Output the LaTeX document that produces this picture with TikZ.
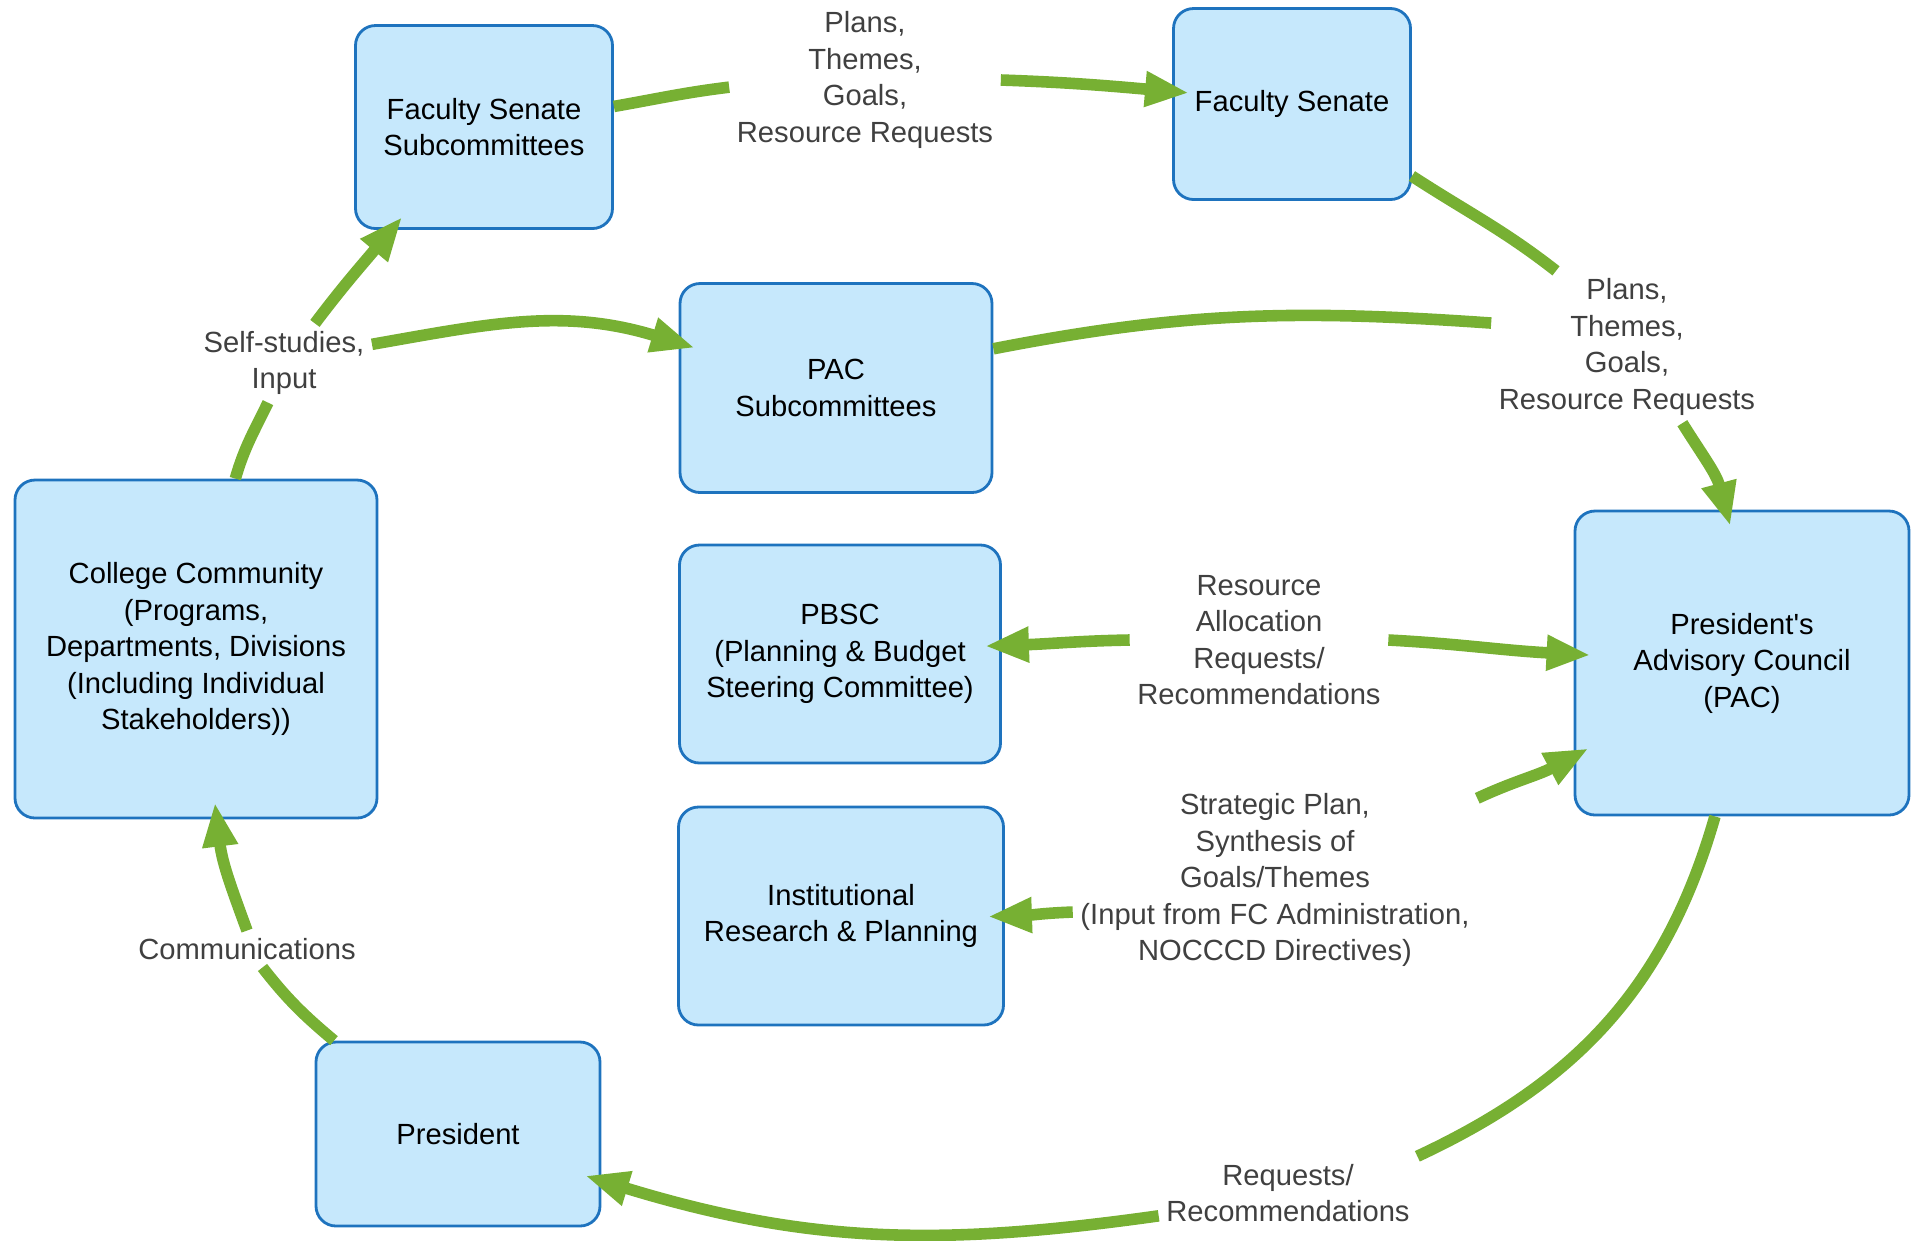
\documentclass[tikz,border=0pt]{standalone}
\usepackage{fontspec}
\setmainfont{Liberation Sans}
\usetikzlibrary{arrows.meta}
\definecolor{boxfill}{HTML}{C6E8FC}
\definecolor{boxline}{HTML}{1E73BE}
\definecolor{flowgreen}{HTML}{77B033}
\definecolor{labelgray}{HTML}{404040}

\begin{document}
\begin{tikzpicture}[
    >={Triangle[length=0.44cm, width=0.33cm]},
    box/.style={draw=boxline, fill=boxfill, line width=0.8pt, rounded corners=0.2cm,
      align=center, text=black, font=\fontsize{8.3}{10.4}\selectfont},
    lbl/.style={align=center, text=labelgray, inner sep=2pt, font=\fontsize{8.3}{10.4}\selectfont},
    flow/.style={draw=flowgreen, line width=3.3pt},
    flowarrow/.style={flow, ->, shorten >=-0.17cm}
  ]
    \useasboundingbox (0,0) rectangle (19.11,-12.40);

    % Boxes
    \node[box, minimum width=2.57cm, minimum height=2.03cm] (fss) at (4.84,-1.27) {Faculty Senate\\Subcommittees};
    \node[box, minimum width=2.37cm, minimum height=1.91cm] (fs) at (12.92,-1.04) {Faculty Senate};
    \node[box, minimum width=3.12cm, minimum height=2.09cm] (pacs) at (8.36,-3.88) {PAC\\Subcommittees};
    \node[box, minimum width=3.21cm, minimum height=2.18cm] (pbsc) at (8.40,-6.54) {PBSC\\(Planning \& Budget\\Steering Committee)};
    \node[box, minimum width=3.25cm, minimum height=2.18cm] (irp) at (8.41,-9.16) {Institutional\\Research \& Planning};
    \node[box, minimum width=3.62cm, minimum height=3.38cm] (cc) at (1.96,-6.49) {College Community\\(Programs,\\Departments, Divisions\\(Including Individual\\Stakeholders))};
    \node[box, minimum width=3.34cm, minimum height=3.04cm] (pac) at (17.42,-6.63) {President\textquotesingle s\\Advisory Council\\(PAC)};
    \node[box, minimum width=2.84cm, minimum height=1.84cm] (pres) at (4.58,-11.34) {President};

    % Labels
    \node[lbl] (plansA) at (8.65,-0.80) {Plans,\\Themes,\\Goals,\\Resource Requests};
    \node[lbl] (plansB) at (16.27,-3.47) {Plans,\\Themes,\\Goals,\\Resource Requests};
    \node[lbl] (selfLbl) at (2.84,-3.63) {Self-studies,\\Input};
    \node[lbl] (allocLbl) at (12.59,-6.40) {Resource\\Allocation\\Requests/\\Recommendations};
    \node[lbl] (stratLbl) at (12.75,-8.80) {Strategic Plan,\\Synthesis of\\Goals/Themes\\(Input from FC Administration,\\NOCCCD Directives)};
    \node[lbl] (commLbl) at (2.47,-9.49) {Communications};
    \node[lbl] (reqLbl) at (12.88,-11.93) {Requests/\\Recommendations};

    % Top: subcommittees to senate to PAC
    \draw[flow, out=10, in=187] (fss.9) to (plansA.183);
    \draw[flowarrow, out=-2, in=175] (plansA.east) to (fs.174);
    \draw[flow, out=-33, in=142] (fs.-31) to (plansB.133);
    \draw[flowarrow, out=-58, in=105] (plansB.-54) to (pac.96);
    \draw[flow, out=11, in=176] (pacs.14) to (plansB.170);

    % Left: community input
    \draw[flow, out=74, in=244] (cc.77) to (selfLbl.248);
    \draw[flowarrow, out=53, in=230] (selfLbl.52) to (fss.228);
    \draw[flowarrow, out=10, in=163] (selfLbl.12) to (pacs.164);

    % Middle: PBSC and IRP
    \draw[flowarrow, out=181, in=2] (allocLbl.west) to (pbsc.3);
    \draw[flowarrow, out=-3, in=177] (allocLbl.east) to (pac.177);
    \draw[flowarrow, out=182, in=2] (stratLbl.189) to (irp.east);
    \draw[flowarrow, out=25, in=208] (stratLbl.22) to (pac.209);

    % Bottom: back to the president and the community
    \draw[flow, out=254, in=25] (pac.260) to (reqLbl.north east);
    \draw[flowarrow, out=188, in=-17] (reqLbl.190) to (pres.-18);
    \draw[flow, out=140, in=-52] (pres.143) to (commLbl.-50);
    \draw[flowarrow, out=110, in=-83] (commLbl.north) to (cc.277);
  \end{tikzpicture}
\end{document}
